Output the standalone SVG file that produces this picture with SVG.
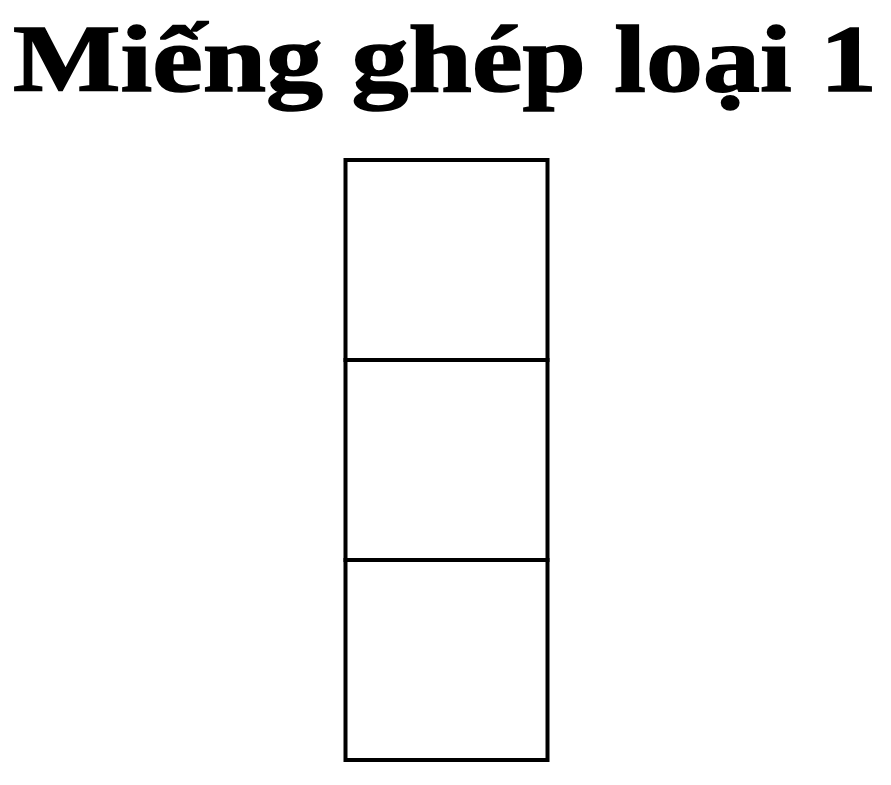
<svg xmlns="http://www.w3.org/2000/svg" width="891" height="785" viewBox="0 0 891 785">
<style>
.title{font-family:"Liberation Serif","DejaVu Serif",serif;font-weight:bold;font-size:96px;fill:#000;stroke:#000;stroke-width:1.5}
.cell{fill:#fff;stroke:#000;stroke-width:4}
</style>
<rect width="891" height="785" fill="#fff"/>
<g id="title"><text class="title" x="445" y="91" text-anchor="middle" textLength="864" lengthAdjust="spacingAndGlyphs">Miếng ghép loại 1</text></g>
<g id="cell1"><rect class="cell" x="345.5" y="160" width="202" height="200"/></g>
<g id="cell2"><rect class="cell" x="345.5" y="360" width="202" height="200"/></g>
<g id="cell3"><rect class="cell" x="345.5" y="560" width="202" height="200"/></g>
<g id="connectors"></g>
</svg>
